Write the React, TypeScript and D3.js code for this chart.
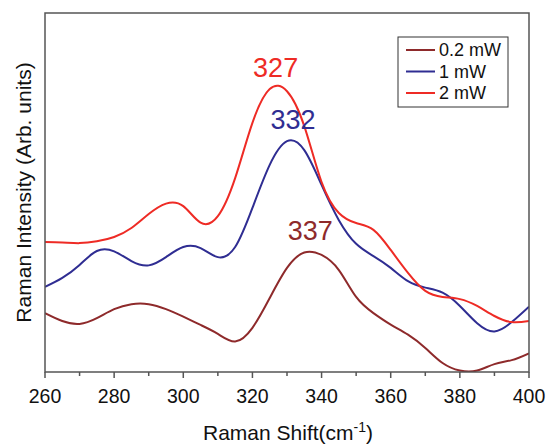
import * as React from 'react'
import * as d3 from 'd3'

// Raman shift sample positions (cm^-1)
const shifts = [
  260, 265, 270, 275, 280, 285, 290, 295, 300, 305, 310, 315, 320, 325, 330,
  335, 340, 345, 350, 355, 360, 365, 370, 375, 380, 385, 390, 395, 400,
]

// intensities, arbitrary units
const p02 = [
  16.4, 14.2, 13.4, 15.0, 17.5, 18.9, 18.9, 17.5, 15.4, 13.1, 10.6, 8.5, 12.3,
  20.6, 29.0, 33.3, 32.6, 28.4, 20.9, 16.4, 13.2, 10.4, 6.7, 2.5, 0.4, 0.4, 2.2,
  3.3, 5.2,
]
const p1 = [
  23.7, 26.2, 29.8, 33.7, 33.6, 30.9, 29.7, 32.0, 34.8, 34.5, 32.0, 34.8, 45.7,
  57.7, 64.3, 61.8, 52.1, 42.3, 35.7, 32.3, 29.0, 25.3, 23.5, 22.1, 18.4, 13.6,
  11.3, 13.9, 18.2,
]
const p2 = [
  36.2, 36.1, 35.9, 36.4, 37.6, 40.1, 44.0, 46.9, 46.2, 41.6, 43.4, 54.0, 69.4,
  78.8, 78.2, 68.5, 52.9, 44.3, 41.5, 39.6, 34.0, 27.6, 22.6, 20.9, 20.3, 18.4,
  15.6, 13.9, 14.2,
]

const seriesNames = ['0.2 mW', '1 mW', '2 mW']
const seriesColors = ['#8e2a2b', '#2f2d92', '#ee2b25']
const peakLabels = ['337', '332', '327']
const xTicks = [260, 280, 300, 320, 340, 360, 380, 400]

const W = 547
const H = 446
const margin = { top: 13, right: 18, bottom: 74, left: 45 }
const font = 'Liberation Sans, Arial, sans-serif'

export default function App() {
  const x = d3
    .scaleLinear()
    .domain([260, 400])
    .range([margin.left, W - margin.right])
  const y = d3
    .scaleLinear()
    .domain([0, 100])
    .range([H - margin.bottom, margin.top])

  const all = [p02, p1, p2]
  const line = d3
    .line<number>()
    .x((d, i) => x(shifts[i]))
    .y((d) => y(d))
    .curve(d3.curveNatural)

  const minor = d3.range(270, 400, 20)
  const x0 = margin.left
  const x1 = W - margin.right
  const y0 = H - margin.bottom
  const y1 = margin.top

  return (
    <svg
      width={W}
      height={H}
      style={{ position: 'absolute', left: 0, top: 0, background: '#fff' }}
      fontFamily={font}
    >
      <defs>
        <clipPath id="plot">
          <rect x={x0} y={y1} width={x1 - x0} height={y0 - y1} />
        </clipPath>
      </defs>

      <g clipPath="url(#plot)">
        {all.map((vals, k) => (
          <path
            key={k}
            d={line(vals) || ''}
            fill="none"
            stroke={seriesColors[k]}
            strokeWidth={2}
          />
        ))}
      </g>

      {/* peak labels */}
      {all.map((vals, k) => {
        const i = d3.maxIndex(vals)
        return (
          <text
            key={k}
            x={x(+peakLabels[k]) - 1}
            y={y(vals[i]) - 12}
            fontSize={27}
            textAnchor="middle"
            fill={seriesColors[k]}
          >
            {peakLabels[k]}
          </text>
        )
      })}

      {/* frame */}
      <rect
        x={x0}
        y={y1}
        width={x1 - x0}
        height={y0 - y1}
        fill="none"
        stroke="#555"
        strokeWidth={1.5}
      />

      {/* x ticks */}
      {xTicks.map((t) => (
        <g key={t}>
          <line x1={x(t)} x2={x(t)} y1={y0} y2={y0 + 6} stroke="#555" strokeWidth={1.5} />
          <text x={x(t)} y={y0 + 31} fontSize={19.5} textAnchor="middle" fill="#111">
            {t}
          </text>
        </g>
      ))}
      {minor.map((t) => (
        <line key={t} x1={x(t)} x2={x(t)} y1={y0} y2={y0 + 4} stroke="#555" strokeWidth={1.5} />
      ))}

      <text x={(x0 + x1) / 2 + 1} y={H - 6} fontSize={21} textAnchor="middle" fill="#111">
        Raman Shift(cm
        <tspan fontSize={14} dy={-8}>-1</tspan>
        <tspan dy={8}>)</tspan>
      </text>
      <text
        transform={`translate(31,${(y0 + y1) / 2}) rotate(-90)`}
        fontSize={21}
        textAnchor="middle"
        fill="#111"
      >
        Raman Intensity (Arb. units)
      </text>

      {/* legend */}
      <g transform="translate(398,37)">
        <rect width={110} height={70} fill="#fff" stroke="#333" strokeWidth={1} />
        {seriesNames.map((n, k) => (
          <g key={n} transform={`translate(0,${13 + k * 21.5})`}>
            <line x1={8} x2={37} stroke={seriesColors[k]} strokeWidth={2} />
            <text x={41} dy="0.35em" fontSize={18} fill="#111">
              {n}
            </text>
          </g>
        ))}
      </g>
    </svg>
  )
}
